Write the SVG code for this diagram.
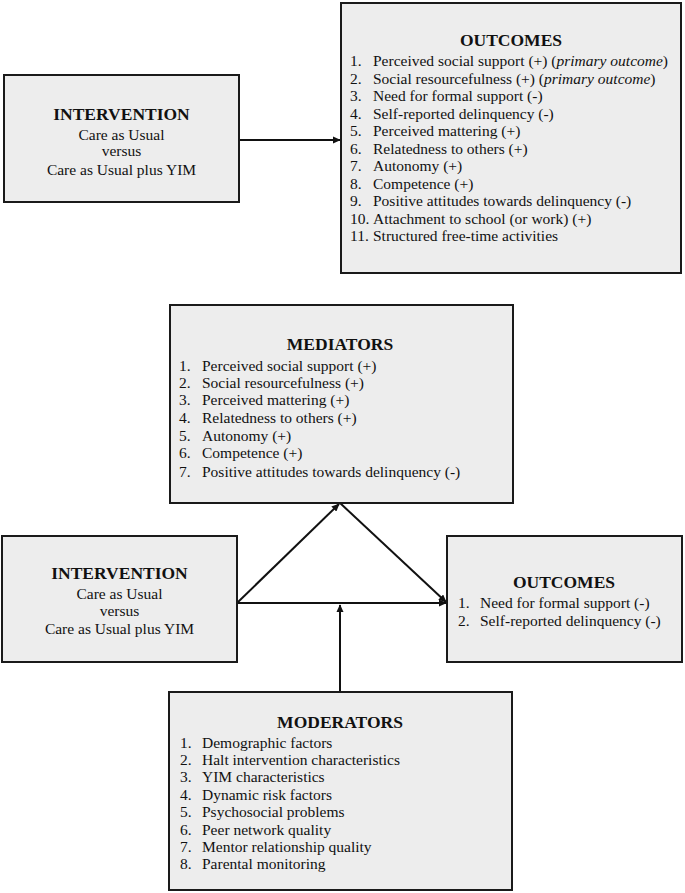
<svg xmlns="http://www.w3.org/2000/svg" width="685" height="893" viewBox="0 0 685 893">
<defs>
<style>
.box{fill:#ededed;stroke:#1a1a1a;stroke-width:2}
text{font-family:"Liberation Serif","Times New Roman",serif;fill:#111}
.t{font-size:17.5px;font-weight:bold;text-anchor:middle}
.b{font-size:15.5px}
.c{font-size:15.5px;text-anchor:middle}
.ln{stroke:#111;stroke-width:2;fill:none;marker-end:url(#ah)}
</style>
<marker id="ah" viewBox="0 0 10 10" refX="9" refY="5" markerWidth="4" markerHeight="3.6" orient="auto" markerUnits="strokeWidth" preserveAspectRatio="none">
<path d="M0,0 L10,5 L0,10 z" fill="#111"/>
</marker>
</defs>
<rect width="685" height="893" fill="#fff"/>
<g id="connectors">
<line class="ln" x1="239" y1="140" x2="340" y2="140"/>
<line class="ln" x1="237" y1="603" x2="446" y2="603"/>
<line class="ln" x1="237" y1="603" x2="339" y2="504"/>
<line class="ln" x1="340" y1="503" x2="446" y2="602"/>
<line class="ln" x1="340" y1="692" x2="340" y2="605"/>
</g>
<g id="intervention1">
<rect class="box" x="4" y="75" width="235" height="127"/>
<text class="t" x="121.5" y="119.5">INTERVENTION</text>
<text class="c" x="121.5" y="140">Care as Usual</text>
<text class="c" x="121.5" y="156">versus</text>
<text class="c" x="121.5" y="175">Care as Usual plus YIM</text>
</g>
<g id="outcomes1">
<rect class="box" x="341" y="3" width="340" height="270"/>
<text class="t" x="511" y="46">OUTCOMES</text>
<g class="b">
<text x="350" y="66">1.</text><text x="373" y="66">Perceived social support (+) (<tspan font-style="italic">primary outcome</tspan>)</text>
<text x="350" y="83.5">2.</text><text x="373" y="83.5">Social resourcefulness (+) (<tspan font-style="italic">primary outcome</tspan>)</text>
<text x="350" y="101">3.</text><text x="373" y="101">Need for formal support (-)</text>
<text x="350" y="118.5">4.</text><text x="373" y="118.5">Self-reported delinquency (-)</text>
<text x="350" y="136">5.</text><text x="373" y="136">Perceived mattering (+)</text>
<text x="350" y="153.5">6.</text><text x="373" y="153.5">Relatedness to others (+)</text>
<text x="350" y="171">7.</text><text x="373" y="171">Autonomy (+)</text>
<text x="350" y="188.5">8.</text><text x="373" y="188.5">Competence (+)</text>
<text x="350" y="206">9.</text><text x="373" y="206">Positive attitudes towards delinquency (-)</text>
<text x="350" y="223.5">10.</text><text x="373" y="223.5">Attachment to school (or work) (+)</text>
<text x="350" y="241">11.</text><text x="373" y="241">Structured free-time activities</text>
</g>
</g>
<g id="mediators">
<rect class="box" x="170" y="305" width="343" height="198"/>
<text class="t" x="340" y="350">MEDIATORS</text>
<g class="b">
<text x="179" y="371">1.</text><text x="202" y="371">Perceived social support (+)</text>
<text x="179" y="388">2.</text><text x="202" y="388">Social resourcefulness (+)</text>
<text x="179" y="405">3.</text><text x="202" y="405">Perceived mattering (+)</text>
<text x="179" y="422.5">4.</text><text x="202" y="422.5">Relatedness to others (+)</text>
<text x="179" y="440.5">5.</text><text x="202" y="440.5">Autonomy (+)</text>
<text x="179" y="458">6.</text><text x="202" y="458">Competence (+)</text>
<text x="179" y="476.5">7.</text><text x="202" y="476.5">Positive attitudes towards delinquency (-)</text>
</g>
</g>
<g id="intervention2">
<rect class="box" x="2" y="536" width="235" height="126"/>
<text class="t" x="119.5" y="579">INTERVENTION</text>
<text class="c" x="119.5" y="599">Care as Usual</text>
<text class="c" x="119.5" y="615.5">versus</text>
<text class="c" x="119.5" y="634">Care as Usual plus YIM</text>
</g>
<g id="outcomes2">
<rect class="box" x="447" y="536" width="235" height="126"/>
<text class="t" x="564" y="588">OUTCOMES</text>
<g class="b">
<text x="458" y="607.5">1.</text><text x="480" y="607.5">Need for formal support (-)</text>
<text x="458" y="626">2.</text><text x="480" y="626">Self-reported delinquency (-)</text>
</g>
</g>
<g id="moderators">
<rect class="box" x="169" y="692" width="343" height="198"/>
<text class="t" x="340" y="727.5">MODERATORS</text>
<g class="b">
<text x="180" y="747.7">1.</text><text x="202" y="747.7">Demographic factors</text>
<text x="180" y="765">2.</text><text x="202" y="765">Halt intervention characteristics</text>
<text x="180" y="782.3">3.</text><text x="202" y="782.3">YIM characteristics</text>
<text x="180" y="800">4.</text><text x="202" y="800">Dynamic risk factors</text>
<text x="180" y="817.3">5.</text><text x="202" y="817.3">Psychosocial problems</text>
<text x="180" y="835">6.</text><text x="202" y="835">Peer network quality</text>
<text x="180" y="852.3">7.</text><text x="202" y="852.3">Mentor relationship quality</text>
<text x="180" y="869.3">8.</text><text x="202" y="869.3">Parental monitoring</text>
</g>
</g>
</svg>
